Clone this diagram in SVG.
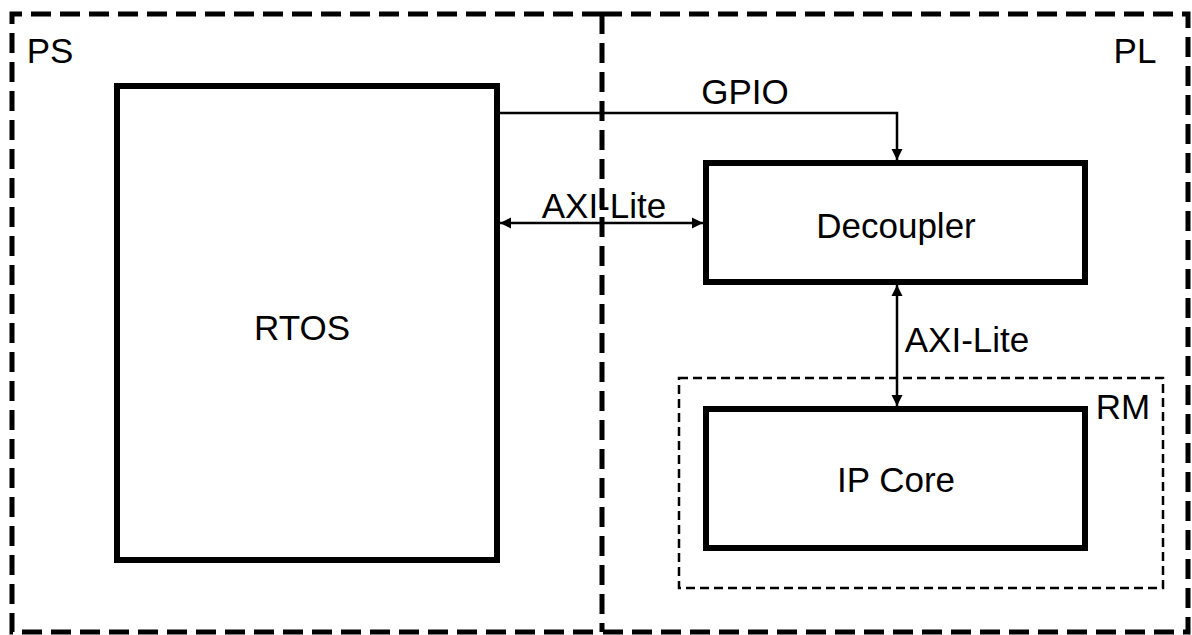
<svg xmlns="http://www.w3.org/2000/svg" width="1192" height="635" viewBox="0 0 1192 635">
<style>
.region{fill:none;stroke:#000;stroke-width:5;stroke-dasharray:20 9}
.rm{fill:none;stroke:#000;stroke-width:2.5;stroke-dasharray:9 5}
.box{fill:#fff;stroke:#000;stroke-width:6}
.conn{fill:none;stroke:#000;stroke-width:2.5}
text{font-family:"Liberation Sans",Arial,sans-serif;font-size:35px;fill:#000;text-anchor:middle}
</style>
<defs>
<marker id="ah" viewBox="0 0 10 10" refX="10" refY="5" markerWidth="4.5" markerHeight="4.5" orient="auto-start-reverse" markerUnits="strokeWidth">
<path d="M0,0 L10,5 L0,10 z" fill="#000"/>
</marker>
</defs>
<rect width="1192" height="635" fill="#fff"/>
<g id="ps">
<path class="region" d="M602,14 H12 V632 H602"/>
<text x="50" y="63">PS</text>
</g>
<g id="pl">
<path class="region" d="M602,14 H1188 V632 H602"/>
<path class="region" d="M602,14 V632"/>
<text x="1135" y="63">PL</text>
</g>
<g id="rm">
<rect class="rm" x="679" y="378" width="484" height="210"/>
<text x="1123" y="419">RM</text>
</g>
<g id="rtos">
<rect class="box" x="117" y="86" width="380" height="474"/>
<text x="302" y="340">RTOS</text>
</g>
<g id="decoupler">
<rect class="box" x="706" y="163" width="379" height="119"/>
<text x="896" y="238">Decoupler</text>
</g>
<g id="ipcore">
<rect class="box" x="706" y="409" width="379" height="139"/>
<text x="896" y="492">IP Core</text>
</g>
<g id="connectors">
<path class="conn" d="M500,113 H897 V160" marker-end="url(#ah)"/>
<text x="745" y="104">GPIO</text>
<path class="conn" d="M500,223 H703" marker-start="url(#ah)" marker-end="url(#ah)"/>
<text x="604" y="218">AXI-Lite</text>
<path class="conn" d="M897,285 V406" marker-start="url(#ah)" marker-end="url(#ah)"/>
<text x="967" y="352">AXI-Lite</text>
</g>
</svg>
